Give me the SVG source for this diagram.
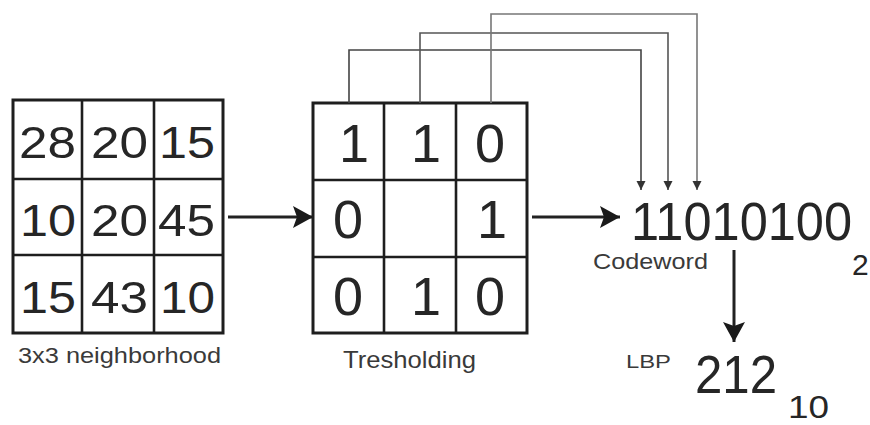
<svg xmlns="http://www.w3.org/2000/svg" width="870" height="425" viewBox="0 0 870 425">
  <style>
    .grid { fill: none; stroke: #1e1e1e; stroke-width: 3; }
    .gridline { stroke: #1e1e1e; stroke-width: 2.6; }
    .num { font-family: "Liberation Sans", Arial, sans-serif; fill: #262626; }
    .lbl { font-family: "Liberation Sans", Arial, sans-serif; fill: #3a3a3a; }
    .arrow { fill: none; stroke: #222; stroke-width: 3; }
    .bit { fill: none; stroke-width: 1.6; }
  </style>
  <defs>
    <marker id="headBig" markerUnits="userSpaceOnUse" markerWidth="22" markerHeight="22" refX="20" refY="11" orient="auto">
      <path d="M0,0 L20,11 L0,22 L4,11 Z" fill="#1a1a1a"/>
    </marker>
    <marker id="headSmall" markerUnits="userSpaceOnUse" markerWidth="10" markerHeight="10" refX="9" refY="5" orient="auto">
      <path d="M0,0.5 L9,5 L0,9.5 Z" fill="#333"/>
    </marker>
  </defs>

  <!-- 3x3 neighbourhood of grey values -->
  <g id="neighborhood">
    <rect class="grid" x="13" y="100" width="210" height="233"/>
    <line class="gridline" x1="82" y1="100" x2="82" y2="333"/>
    <line class="gridline" x1="154" y1="100" x2="154" y2="333"/>
    <line class="gridline" x1="13" y1="179" x2="223" y2="179"/>
    <line class="gridline" x1="13" y1="255" x2="223" y2="255"/>
    <g class="num" font-size="45">
      <text x="19" y="158" textLength="57" lengthAdjust="spacingAndGlyphs">28</text>
      <text x="91" y="158" textLength="57" lengthAdjust="spacingAndGlyphs">20</text>
      <text x="159" y="158" textLength="56" lengthAdjust="spacingAndGlyphs">15</text>
      <text x="20" y="236" textLength="56" lengthAdjust="spacingAndGlyphs">10</text>
      <text x="91" y="236" textLength="57" lengthAdjust="spacingAndGlyphs">20</text>
      <text x="158" y="236" textLength="57" lengthAdjust="spacingAndGlyphs">45</text>
      <text x="20" y="313" textLength="56" lengthAdjust="spacingAndGlyphs">15</text>
      <text x="91" y="313" textLength="57" lengthAdjust="spacingAndGlyphs">43</text>
      <text x="160" y="313" textLength="55" lengthAdjust="spacingAndGlyphs">10</text>
    </g>
    <text class="lbl" x="18" y="363" font-size="22" textLength="203" lengthAdjust="spacingAndGlyphs">3x3 neighborhood</text>
  </g>

  <!-- thresholded neighbourhood -->
  <g id="thresholding">
    <rect class="grid" x="313" y="103" width="214" height="230"/>
    <line class="gridline" x1="384" y1="103" x2="384" y2="333"/>
    <line class="gridline" x1="456" y1="103" x2="456" y2="333"/>
    <line class="gridline" x1="313" y1="180" x2="527" y2="180"/>
    <line class="gridline" x1="313" y1="257" x2="527" y2="257"/>
    <g class="num" font-size="54">
      <text x="339" y="162">1</text>
      <text x="411" y="162">1</text>
      <text x="475" y="162">0</text>
      <text x="333" y="238">0</text>
      <text x="477" y="238">1</text>
      <text x="333" y="315">0</text>
      <text x="411" y="315">1</text>
      <text x="475" y="315">0</text>
    </g>
    <text class="lbl" x="343" y="368" font-size="24" textLength="133" lengthAdjust="spacingAndGlyphs">Tresholding</text>
  </g>

  <!-- binary codeword -->
  <g id="codeword">
    <text class="num" x="631" y="240" font-size="53" textLength="221" lengthAdjust="spacingAndGlyphs">11010100</text>
    <text class="num" x="852" y="275" font-size="30">2</text>
    <text class="lbl" x="593" y="269" font-size="22" textLength="115" lengthAdjust="spacingAndGlyphs">Codeword</text>
  </g>

  <!-- decimal LBP value -->
  <g id="lbp">
    <text class="lbl" x="626" y="368" font-size="18" textLength="45" lengthAdjust="spacingAndGlyphs">LBP</text>
    <text class="num" x="695" y="393" font-size="54" textLength="82" lengthAdjust="spacingAndGlyphs">212</text>
    <text class="num" x="788" y="418" font-size="32" textLength="41" lengthAdjust="spacingAndGlyphs">10</text>
  </g>

  <!-- connectors -->
  <g id="connectors">
    <line class="arrow" x1="228" y1="217" x2="313" y2="217" marker-end="url(#headBig)"/>
    <line class="arrow" x1="532" y1="217" x2="620" y2="217" marker-end="url(#headBig)"/>
    <line class="arrow" x1="734" y1="250" x2="734" y2="342" marker-end="url(#headBig)"/>
    <polyline class="bit" stroke="#444" points="349,103 349,50 641,50 641,190" marker-end="url(#headSmall)"/>
    <polyline class="bit" stroke="#555" points="420,103 420,33 668,33 668,190" marker-end="url(#headSmall)"/>
    <polyline class="bit" stroke="#777" points="491,103 491,14 697,14 697,190" marker-end="url(#headSmall)"/>
  </g>
</svg>
